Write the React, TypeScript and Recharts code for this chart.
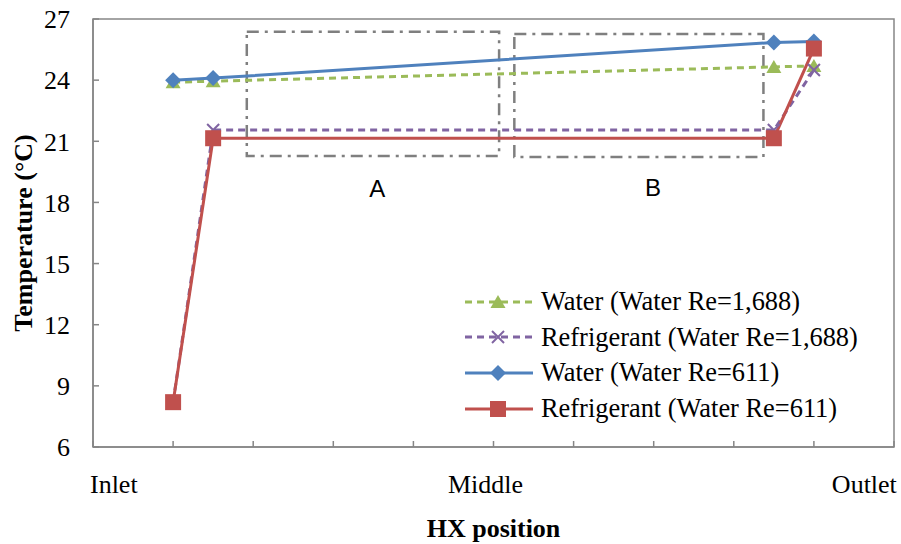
import React from 'react';
import { ComposedChart, Line, XAxis, YAxis, ReferenceArea, ReferenceDot, Legend } from 'recharts';

// ---- data ----
const positions = [1, 1.5, 8.5, 9];
const waterRe1688 = [23.9, 23.95, 24.65, 24.7];
const refrigerantRe1688 = [8.2, 21.55, 21.55, 24.5];
const waterRe611 = [24.0, 24.1, 25.85, 25.9];
const refrigerantRe611 = [8.2, 21.15, 21.15, 25.55];

const seriesKeys = ['w1688', 'r1688', 'w611', 'r611'];
const seriesNames = [
  'Water (Water Re=1,688)',
  'Refrigerant (Water Re=1,688)',
  'Water (Water Re=611)',
  'Refrigerant (Water Re=611)',
];
const seriesColors = ['#9BBB59', '#8064A2', '#4F81BD', '#C0504D'];
const seriesShapes = ['triangle', 'cross', 'diamond', 'square'];
const seriesDashes = ['7 5', '7 5', undefined, undefined];

const yTicks = [6, 9, 12, 15, 18, 21, 24, 27];
const xTicks = [0, 1, 2, 3, 4, 5, 6, 7, 8, 9, 10];
const positionLabels = ['Inlet', 'Middle', 'Outlet'];
const positionLabelAt = [0.26, 4.9, 9.63];

const zoneNames = ['A', 'B'];
const zoneX1 = [1.92, 5.26];
const zoneX2 = [5.07, 8.37];
const zoneY1 = [20.28, 20.23];
const zoneY2 = [26.38, 26.26];
const zoneLabelX = [3.55, 6.99];
const zoneLabelY = [18.7, 18.75];

const data = positions.map((x, i) => ({
  x,
  w1688: waterRe1688[i],
  r1688: refrigerantRe1688[i],
  w611: waterRe611[i],
  r611: refrigerantRe611[i],
}));

const SERIF = '"Liberation Serif", "Times New Roman", serif';
const AXIS = '#868686';

function Marker({ shape, cx, cy, color }: any) {
  if (cx == null || cy == null) return null;
  switch (shape) {
    case 'triangle':
      return <polygon points={`${cx},${cy - 7} ${cx + 7.5},${cy + 6} ${cx - 7.5},${cy + 6}`} fill={color} />;
    case 'cross':
      return (
        <g stroke={color} strokeWidth={2}>
          <line x1={cx - 6} y1={cy - 6} x2={cx + 6} y2={cy + 6} />
          <line x1={cx - 6} y1={cy + 6} x2={cx + 6} y2={cy - 6} />
        </g>
      );
    case 'diamond':
      return <polygon points={`${cx},${cy - 8} ${cx + 8},${cy} ${cx},${cy + 8} ${cx - 8},${cy}`} fill={color} />;
    case 'square':
    default:
      return <rect x={cx - 8} y={cy - 8} width={16} height={16} fill={color} />;
  }
}

function CustomLegend() {
  return (
    <div style={{ fontFamily: SERIF, fontSize: 26.4, color: '#000' }}>
      {seriesNames.map((name, i) => (
        <div key={name} style={{ display: 'flex', alignItems: 'center', height: 35.6, lineHeight: '35.6px', whiteSpace: 'nowrap' }}>
          <svg width={72} height={20} style={{ display: 'block' }}>
            <line x1={2} y1={10} x2={70} y2={10} stroke={seriesColors[i]} strokeWidth={3} strokeDasharray={seriesDashes[i]} />
            <Marker shape={seriesShapes[i]} cx={35} cy={10} color={seriesColors[i]} />
          </svg>
          <span style={{ marginLeft: 6 }}>{name}</span>
        </div>
      ))}
    </div>
  );
}

function YTitle(props: any) {
  const vb = props.viewBox || { x: 0, y: 19, width: 93, height: 428 };
  const cx = vb.x + 23;
  const cy = vb.y + vb.height / 2;
  return (
    <text x={cx} y={cy} transform={`rotate(-90, ${cx}, ${cy})`} textAnchor="middle" dominantBaseline="central"
      fontFamily={SERIF} fontSize={26} fontWeight="bold" fill="#000">
      Temperature (°C)
    </text>
  );
}

export default function App() {
  return (
    <div style={{ position: 'absolute', left: 0, top: 0, width: 901, height: 544, background: '#fff' }}>
      <ComposedChart width={901} height={544} data={data} margin={{ top: 19, right: 7, left: 0, bottom: 0 }}>
        <XAxis xAxisId="axis1" type="number" dataKey="x" domain={[0, 10]} ticks={xTicks} interval={0}
          tickSize={-6} tickFormatter={() => ''} height={1} stroke={AXIS} strokeWidth={1.5} allowDataOverflow />
        <XAxis xAxisId="axis2" type="number" dataKey="x" domain={[0, 10]} ticks={positionLabelAt} interval={0}
          tickFormatter={(v: number) => positionLabels[positionLabelAt.indexOf(v)] ?? ''}
          axisLine={false} tickLine={false} tickSize={0} tickMargin={27} height={96}
          tick={{ fill: '#000', fontSize: 26, fontFamily: SERIF }}
          label={{ value: 'HX position', position: 'insideBottom', offset: 7, fill: '#000', fontSize: 26, fontFamily: SERIF, fontWeight: 'bold' }} />
        <YAxis type="number" domain={[6, 27]} ticks={yTicks} interval={0} width={93}
          tickSize={-6} tickMargin={29} stroke={AXIS} strokeWidth={1.5}
          tick={{ fill: '#000', fontSize: 26, fontFamily: SERIF }}
          label={{ content: (p: any) => <YTitle {...p} /> }} />
        <ReferenceArea xAxisId="axis1" x1={0} x2={10} y1={6} y2={27} fill="none" stroke={AXIS} strokeWidth={1.5} />
        {zoneNames.map((z, i) => (
          <ReferenceArea key={'zone' + z} xAxisId="axis1" x1={zoneX1[i]} x2={zoneX2[i]} y1={zoneY1[i]} y2={zoneY2[i]}
            fill="none" stroke="#7F7F7F" strokeWidth={2.5} strokeDasharray="12 6 3 6" />
        ))}
        {zoneNames.map((z, i) => (
          <ReferenceDot key={'lab' + z} xAxisId="axis1" x={zoneLabelX[i]} y={zoneLabelY[i]} r={0} fill="none" stroke="none"
            label={{ value: z, position: 'center', fill: '#000', fontSize: 24, fontFamily: '"Liberation Sans", Arial, sans-serif' }} />
        ))}
        {seriesKeys.map((k, i) => (
          <Line key={k} xAxisId="axis1" type="linear" dataKey={k} name={seriesNames[i]} stroke={seriesColors[i]}
            strokeWidth={3} strokeDasharray={seriesDashes[i]} isAnimationActive={false}
            dot={(p: any) => <Marker key={k + p.index} shape={seriesShapes[i]} cx={p.cx} cy={p.cy} color={seriesColors[i]} />}
            activeDot={false} />
        ))}
        <Legend layout="horizontal" verticalAlign="middle" align="center"
          wrapperStyle={{ position: 'absolute', left: 463, top: 284, width: 'auto', height: 'auto' }}
          content={() => <CustomLegend />} />
      </ComposedChart>
    </div>
  );
}
